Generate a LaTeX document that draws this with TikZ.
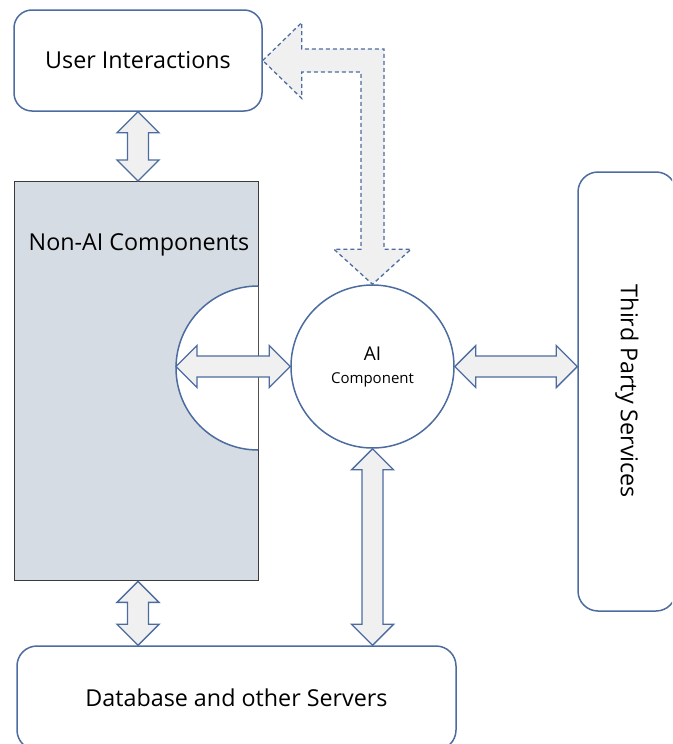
\documentclass[tikz,border=0pt]{standalone}
\usepackage{fontspec}
\setmainfont{Open Sans}
\usetikzlibrary{calc}

\definecolor{edge}{HTML}{4C6C9F}
\definecolor{shade}{HTML}{F0F0F0}
\definecolor{slate}{HTML}{D6DCE4}
\definecolor{darkline}{HTML}{3A3A3A}

\tikzset{
  big/.style={font=\fontsize{23.3}{28}\selectfont},
  box/.style={draw=edge, line width=1.5pt, rounded corners=18pt, fill=white, inner sep=0pt, big},
  % block arrow with a head at both ends, drawn between two points
  dblarrow/.style={draw=edge, fill=shade, line width=1.4pt, line join=miter,
    to path={let \p1=(\tikztostart), \p2=(\tikztotarget), \n1={atan2(\y2-\y1,\x2-\x1)} in
      (\p1) -- ($(\p1)+(\n1:21pt)+(\n1+90:21pt)$) -- ($(\p1)+(\n1:21pt)+(\n1+90:10.5pt)$)
      -- ($(\p2)+(\n1+180:21pt)+(\n1+90:10.5pt)$) -- ($(\p2)+(\n1+180:21pt)+(\n1+90:21pt)$)
      -- (\p2) -- ($(\p2)+(\n1+180:21pt)+(\n1-90:21pt)$) -- ($(\p2)+(\n1+180:21pt)+(\n1-90:10.5pt)$)
      -- ($(\p1)+(\n1:21pt)+(\n1-90:10.5pt)$) -- ($(\p1)+(\n1:21pt)+(\n1-90:21pt)$) -- cycle}},
}

\begin{document}
\begin{tikzpicture}[x=1pt, y=-1pt]
    \clip (0,0) rectangle (672,744);

    % Boxes
    \node[box, minimum width=248pt, minimum height=101pt] (ui) at (138,60.5) {User Interactions};
    \node[box, rounded corners=20pt, minimum width=98pt, minimum height=439pt,
          label={[rotate=-90, big]center:Third Party Services}] (tp) at (627,391.5) {};
    \node[box, rounded corners=20pt, minimum width=439pt, minimum height=104pt] (db) at (236.5,698) {Database and other Servers};

    % Non-AI block with the round cut
    \node[draw=darkline, fill=slate, line width=1.3pt, minimum width=244pt, minimum height=399pt,
          inner sep=0pt, anchor=north west] (nonai) at (14,181) {};
    \node[big] (nonaitext) at (139,245) {Non-AI Components};
    \draw[draw=edge, fill=white, line width=1.5pt] (258,286) arc[start angle=90, end angle=270, radius=82pt];
    \coordinate (cutw) at (176,366.5);

    % AI circle
    \node[draw=edge, fill=white, line width=1.5pt, circle, minimum size=163pt, inner sep=0pt, align=center,
          font=\fontsize{15}{23}\selectfont]
        (ai) at (372.5,366.5) {{\fontsize{19}{23}\selectfont AI}\\Component};

    % Arrows
    \draw[dblarrow] (ui.south) to (ui.south |- nonai.north);
    \draw[dblarrow] (ui.south |- nonai.south) to (ui.south |- db.north);
    \draw[dblarrow] (cutw) to (ai.west);
    \draw[dblarrow] (ai.east) to (ai.east -| tp.west);
    \draw[dblarrow] (ai.south) to (ai.south |- db.north);

    % Dashed feedback arrow
    \draw[draw=edge, fill=shade, line width=1.3pt, dash pattern=on 4pt off 3pt, line join=miter]
      let \p1=(ui.east), \p2=(ai.north) in
      (\p1) -- (\x1+39pt,\y1+38pt) -- (\x1+39pt,\y1+11.5pt) -- (\x2+11.5pt,\y1+11.5pt)
      -- (\x2+11.5pt,\y2+35pt) -- (\x2+38.5pt,\y2+35pt) -- (\p2) -- (\x2-38.5pt,\y2+35pt)
      -- (\x2-11.5pt,\y2+35pt) -- (\x2-11.5pt,\y1-11.5pt) -- (\x1+39pt,\y1-11.5pt)
      -- (\x1+39pt,\y1-38pt) -- cycle;
\end{tikzpicture}
\end{document}
